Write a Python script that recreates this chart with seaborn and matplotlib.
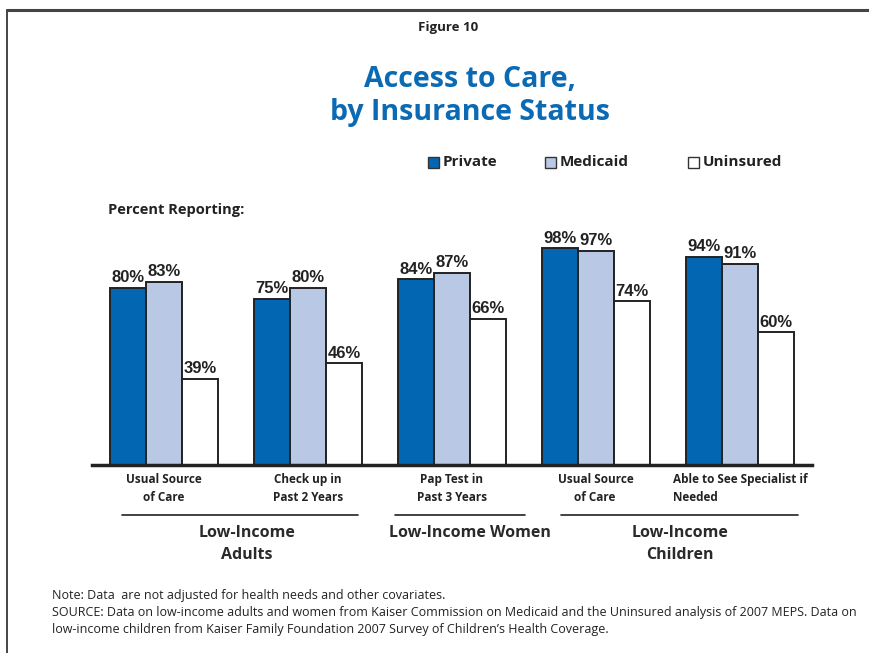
import matplotlib
matplotlib.use("Agg")
import matplotlib.pyplot as plt
from matplotlib.lines import Line2D
from matplotlib.patches import Rectangle
import seaborn as sns
import pandas as pd

categories = ["Usual Source\nof Care", "Check up in\nPast 2 Years", "Pap Test in\nPast 3 Years",
              "Usual Source\nof Care ", "Able to See Specialist if\nNeeded"]
series = ["Private", "Medicaid", "Uninsured"]
private = [80, 75, 84, 98, 94]
medicaid = [83, 80, 87, 97, 91]
uninsured = [39, 46, 66, 74, 60]
groups = ["Low-Income\nAdults", "Low-Income Women", "Low-Income\nChildren"]
colors = ["#0266B2", "#B8C8E5", "#FFFFFF"]

rows = []
for s, vals in zip(series, [private, medicaid, uninsured]):
    for c, v in zip(categories, vals):
        rows.append({"cat": c, "series": s, "value": v})
df = pd.DataFrame(rows)

sns.set_theme(style="white")
W, H = 870, 653
fig = plt.figure(figsize=(W / 100, H / 100), dpi=100)
ax = fig.add_axes([92 / W, 1 - 465 / H, 720 / W, 221 / H])

sns.barplot(data=df, x="cat", y="value", hue="series", order=categories, hue_order=series,
            palette=colors, saturation=1, width=0.75, gap=0, edgecolor="#222222", linewidth=1.4,
            legend=False, ax=ax)
ax.set_xlim(-0.5, 4.5)
ax.set_ylim(0, 100)
ax.set_xlabel("")
ax.set_ylabel("")
ax.set_yticks([])
for s in ["top", "left", "right"]:
    ax.spines[s].set_visible(False)
ax.spines["bottom"].set_linewidth(2.5)
ax.spines["bottom"].set_color("#222222")
ax.spines["bottom"].set_zorder(5)
ax.tick_params(axis="x", length=0, pad=6)
ax.set_xticks(range(len(categories)))
ax.set_xticklabels(categories, fontsize=8.5, fontweight="bold", family="Open Sans", color="#222222",
                   linespacing=1.45)
ax.get_xticklabels()[-1].set_multialignment("left")
ax.get_xticklabels()[-1].set_x(4.05)

for cont in ax.containers:
    ax.bar_label(cont, fmt="%d%%", padding=2, fontsize=12, fontweight="bold",
                 family="Liberation Sans", color="#222222", clip_on=False)

# frame lines
fig.add_artist(Line2D([7 / W, 1.0], [1 - 10 / H, 1 - 10 / H], color="#444444", lw=2.2))
fig.add_artist(Line2D([7 / W, 7 / W], [0, 1 - 10 / H], color="#444444", lw=1.4))

fig.text(448 / W, 1 - 27 / H, "Figure 10", ha="center", va="center", fontsize=9.5,
         fontweight="bold", family="Open Sans", color="#222222")
fig.text(470 / W, 1 - 96 / H, "Access to Care,\nby Insurance Status", ha="center", va="center",
         fontsize=20.5, fontweight="bold", family="Open Sans", color="#0A6AB4", linespacing=1.15)

# legend
for x0, lab, col in zip([428, 545, 688], series, colors):
    fig.add_artist(Rectangle((x0 / W, 1 - 168 / H), 11 / W, 11 / H, facecolor=col,
                             edgecolor="#333333", lw=1, transform=fig.transFigure))
    fig.text((x0 + 15) / W, 1 - 162 / H, lab, ha="left", va="center", fontsize=11,
             fontweight="bold", family="Open Sans", color="#222222")

fig.text(108 / W, 1 - 210 / H, "Percent Reporting:", ha="left", va="center", fontsize=10.5,
         fontweight="bold", family="Open Sans", color="#222222")

# group lines and labels
for (x1, x2), cx, g in zip([(122, 358), (395, 525), (561, 798)], [247, 470, 680], groups):
    fig.add_artist(Line2D([x1 / W, x2 / W], [1 - 515 / H, 1 - 515 / H], color="#222222", lw=1.2))
    fig.text(cx / W, 1 - 525 / H, g, ha="center", va="top", fontsize=11.5, fontweight="bold",
             family="Open Sans", color="#2a2a2a", linespacing=1.5)

note = ("Note: Data  are not adjusted for health needs and other covariates.\n"
        "SOURCE: Data on low-income adults and women from Kaiser Commission on Medicaid and the Uninsured analysis of 2007 MEPS. Data on\n"
        "low-income children from Kaiser Family Foundation 2007 Survey of Children\u2019s Health Coverage.")
fig.text(52 / W, 1 - 589 / H, note, ha="left", va="top", fontsize=9, family="Open Sans",
         color="#222222", linespacing=1.4)

fig.savefig("out.png", dpi=100)
